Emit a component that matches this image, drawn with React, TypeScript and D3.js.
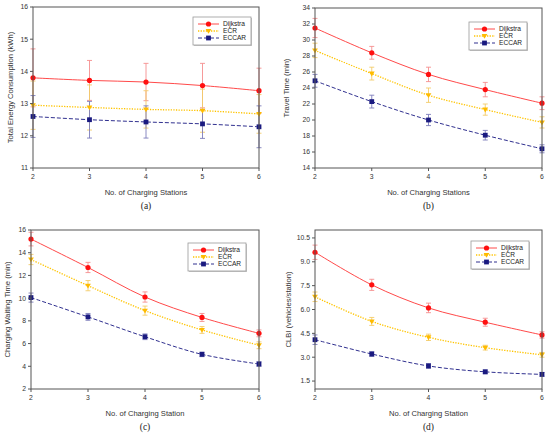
import React from "react";
import * as d3 from "d3";

const stations = [2, 3, 4, 5, 6];
const seriesNames = ["Dijkstra", "ECR", "ECCAR"];

// (a) total energy consumption
const energyDijkstra = [13.8, 13.72, 13.67, 13.56, 13.4];
const energyDijkstraErr = [0.9, 0.62, 0.58, 0.69, 0.7];
const energyEcr = [12.95, 12.88, 12.82, 12.78, 12.68];
const energyEcrErr = [0.75, 0.7, 0.58, 0.67, 0.6];
const energyEccar = [12.6, 12.5, 12.43, 12.37, 12.28];
const energyEccarErr = [0.65, 0.57, 0.5, 0.45, 0.65];

// (b) travel time
const travelDijkstra = [31.5, 28.4, 25.7, 23.8, 22.1];
const travelDijkstraErr = [1.2, 0.8, 0.9, 0.9, 0.8];
const travelEcr = [28.7, 25.8, 23.1, 21.3, 19.7];
const travelEcrErr = [0.9, 0.8, 0.9, 0.7, 0.7];
const travelEccar = [24.9, 22.3, 20.0, 18.1, 16.4];
const travelEccarErr = [0.8, 0.8, 0.7, 0.6, 0.5];

// (c) charging waiting time
const waitDijkstra = [15.2, 12.7, 10.1, 8.3, 6.9];
const waitDijkstraErr = [0.6, 0.45, 0.45, 0.35, 0.3];
const waitEcr = [13.4, 11.1, 8.9, 7.2, 5.85];
const waitEcrErr = [0.45, 0.45, 0.4, 0.3, 0.3];
const waitEccar = [10.05, 8.35, 6.6, 5.05, 4.2];
const waitEccarErr = [0.4, 0.3, 0.25, 0.2, 0.2];

// (d) CLBI
const clbiDijkstra = [9.6, 7.55, 6.1, 5.2, 4.4];
const clbiDijkstraErr = [0.45, 0.35, 0.3, 0.25, 0.2];
const clbiEcr = [6.8, 5.25, 4.25, 3.6, 3.15];
const clbiEcrErr = [0.3, 0.25, 0.2, 0.15, 0.15];
const clbiEccar = [4.1, 3.2, 2.45, 2.08, 1.92];
const clbiEccarErr = [0.3, 0.15, 0.15, 0.12, 0.12];

const energyTicks = [11, 12, 13, 14, 15, 16];
const travelTicks = [14, 16, 18, 20, 22, 24, 26, 28, 30, 32, 34];
const waitTicks = [2, 4, 6, 8, 10, 12, 14, 16];
const clbiTicks = [1.5, 3.0, 4.5, 6.0, 7.5, 9.0, 10.5];

const styles = [
  { line: "#ff4a4a", err: "#f58f8f", mark: "#ff1010", dash: null, width: 1, shape: "circle" },
  { line: "#ffc400", err: "#f3cc6a", mark: "#ffbb00", dash: "1.3,1.3", width: 1.3, shape: "triangle" },
  { line: "#30308f", err: "#7d7dbb", mark: "#1a1a80", dash: "4,2", width: 1, shape: "square" },
];

const font = "Liberation Sans, Arial, sans-serif";

interface PanelProps {
  left: number;
  right: number;
  top: number;
  bottom: number;
  domain: [number, number];
  ticks: number[];
  tickFmt: (v: number) => string;
  values: number[][];
  errors: number[][];
  xTitle: string;
  yTitle: string;
  yTitleOffset: number;
  caption: string;
  legendX: number;
  legendY: number;
}

const Marker = ({ shape, x, y, fill }: { shape: string; x: number; y: number; fill: string }) => {
  if (shape === "circle") return <circle cx={x} cy={y} r={2.6} fill={fill} />;
  if (shape === "square") return <rect x={x - 2.4} y={y - 2.4} width={4.8} height={4.8} fill={fill} />;
  return <path d={`M${x - 2.9},${y - 2} L${x + 2.9},${y - 2} L${x},${y + 2.8} Z`} fill={fill} />;
};

const Panel: React.FC<PanelProps> = (p) => {
  const x = d3.scaleLinear().domain([2, 6]).range([p.left, p.right]);
  const y = d3.scaleLinear().domain(p.domain).range([p.bottom, p.top]);
  const line = d3
    .line<number>()
    .x((_, i) => x(stations[i]))
    .y((d) => y(d))
    .curve(d3.curveCatmullRom.alpha(0.5));
  const cx = (p.left + p.right) / 2;
  const cy = (p.top + p.bottom) / 2;

  return (
    <g fontFamily={font}>
      {p.values.map((vals, s) =>
        vals.map((v, i) => {
          const e = p.errors[s][i];
          const xi = x(stations[i]);
          return (
            <g key={`e${s}-${i}`} stroke={styles[s].err} strokeWidth={0.9}>
              <line x1={xi} x2={xi} y1={y(v - e)} y2={y(v + e)} />
              <line x1={xi - 2.5} x2={xi + 2.5} y1={y(v - e)} y2={y(v - e)} />
              <line x1={xi - 2.5} x2={xi + 2.5} y1={y(v + e)} y2={y(v + e)} />
            </g>
          );
        })
      )}
      {p.values.map((vals, s) => (
        <path
          key={`l${s}`}
          d={line(vals) || ""}
          fill="none"
          stroke={styles[s].line}
          strokeWidth={styles[s].width}
          strokeDasharray={styles[s].dash || undefined}
        />
      ))}
      {p.values.map((vals, s) =>
        vals.map((v, i) => (
          <Marker key={`m${s}-${i}`} shape={styles[s].shape} x={x(stations[i])} y={y(v)} fill={styles[s].mark} />
        ))
      )}
      <rect
        x={p.left}
        y={p.top}
        width={p.right - p.left}
        height={p.bottom - p.top}
        fill="none"
        stroke="#555"
        strokeWidth={1}
      />
      {p.ticks.map((t) => (
        <g key={`yt${t}`}>
          <line x1={p.left - 3} x2={p.left} y1={y(t)} y2={y(t)} stroke="#555" />
          <text x={p.left - 5} y={y(t)} dy="0.35em" textAnchor="end" fontSize={6.8} fill="#333">
            {p.tickFmt(t)}
          </text>
        </g>
      ))}
      {stations.map((t) => (
        <g key={`xt${t}`}>
          <line x1={x(t)} x2={x(t)} y1={p.bottom} y2={p.bottom + 3} stroke="#555" />
          <text x={x(t)} y={p.bottom + 11} textAnchor="middle" fontSize={6.8} fill="#333">
            {t}
          </text>
        </g>
      ))}
      <text x={cx} y={p.bottom + 27} textAnchor="middle" fontSize={7.6} fill="#333">
        {p.xTitle}
      </text>
      <text
        transform={`translate(${p.left - p.yTitleOffset},${cy}) rotate(-90)`}
        dy="0.35em"
        textAnchor="middle"
        fontSize={7.6}
        fill="#333"
      >
        {p.yTitle}
      </text>
      <text x={cx} y={p.bottom + 41} textAnchor="middle" fontSize={9.5} fontFamily="Liberation Serif, Times New Roman, serif" fill="#222">
        {p.caption}
      </text>
      <g transform={`translate(${p.legendX},${p.legendY})`}>
        <rect x={1} y={1} width={58} height={28} fill="#c8c8c8" />
        <rect x={0} y={0} width={58} height={28} fill="#fff" stroke="#999" strokeWidth={0.8} />
        {seriesNames.map((n, s) => (
          <g key={n} transform={`translate(0,${7 + s * 7})`}>
            <line
              x1={5}
              x2={26}
              y1={0}
              y2={0}
              stroke={styles[s].line}
              strokeWidth={styles[s].width}
              strokeDasharray={styles[s].dash || undefined}
            />
            <Marker shape={styles[s].shape} x={15.5} y={0} fill={styles[s].mark} />
            <text x={30} y={0} dy="0.35em" fontSize={6.6} fill="#222">
              {n}
            </text>
          </g>
        ))}
      </g>
    </g>
  );
};

const intFmt = (v: number) => String(v);
const oneFmt = d3.format(".1f");

const App: React.FC = () => (
  <svg
    width={550}
    height={435}
    style={{ position: "absolute", left: 0, top: 0, background: "#fff" }}
  >
    <Panel
      left={33}
      right={259}
      top={7}
      bottom={168}
      domain={[11, 16]}
      ticks={energyTicks}
      tickFmt={intFmt}
      values={[energyDijkstra, energyEcr, energyEccar]}
      errors={[energyDijkstraErr, energyEcrErr, energyEccarErr]}
      xTitle="No. of Charging Stations"
      yTitle="Total Energy Consumption (kWh)"
      yTitleOffset={23}
      caption="(a)"
      legendX={193}
      legendY={17}
    />
    <Panel
      left={315}
      right={542}
      top={8}
      bottom={168}
      domain={[14, 34]}
      ticks={travelTicks}
      tickFmt={intFmt}
      values={[travelDijkstra, travelEcr, travelEccar]}
      errors={[travelDijkstraErr, travelEcrErr, travelEccarErr]}
      xTitle="No. of Charging Stations"
      yTitle="Travel Time (min)"
      yTitleOffset={29}
      caption="(b)"
      legendX={469}
      legendY={22}
    />
    <Panel
      left={31}
      right={259}
      top={230}
      bottom={389}
      domain={[2, 16]}
      ticks={waitTicks}
      tickFmt={intFmt}
      values={[waitDijkstra, waitEcr, waitEccar]}
      errors={[waitDijkstraErr, waitEcrErr, waitEccarErr]}
      xTitle="No. of Charging Station"
      yTitle="Charging Waiting Time (min)"
      yTitleOffset={24}
      caption="(c)"
      legendX={188}
      legendY={243}
    />
    <Panel
      left={315}
      right={542}
      top={230}
      bottom={389}
      domain={[1, 11]}
      ticks={clbiTicks}
      tickFmt={oneFmt}
      values={[clbiDijkstra, clbiEcr, clbiEccar]}
      errors={[clbiDijkstraErr, clbiEcrErr, clbiEccarErr]}
      xTitle="No. of Charging Station"
      yTitle="CLBI (vehicles/station)"
      yTitleOffset={27}
      caption="(d)"
      legendX={471}
      legendY={241}
    />
  </svg>
);

export default App;
